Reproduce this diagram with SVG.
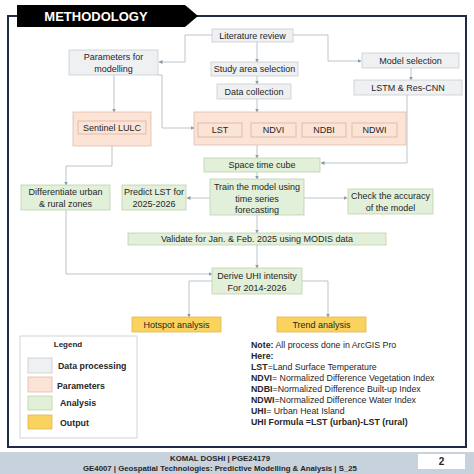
<svg xmlns="http://www.w3.org/2000/svg" width="474" height="474" viewBox="0 0 474 474">
<defs>
<style>
.t{font-family:"Liberation Sans",Arial,sans-serif;font-size:9px;fill:#262626;text-anchor:middle}
.n{font-family:"Liberation Sans",Arial,sans-serif;font-size:8.8px;fill:#262626}
.b{font-weight:bold}
.gray{fill:#eff0f2;stroke:#c9ccd2;stroke-width:0.8}
.peach{fill:#fbe3d6;stroke:#e4bca8;stroke-width:0.8}
.pin{fill:#fbe3d6;stroke:#d9b3a0;stroke-width:0.8}
.green{fill:#e2efd9;stroke:#bcd2ad;stroke-width:0.8}
.yellow{fill:#f9d35e;stroke:#e3b84a;stroke-width:0.8}
.c{fill:none;stroke:#aab6c3;stroke-width:0.8}
</style>
<marker id="ah" markerWidth="4" markerHeight="4" refX="3.5" refY="2" orient="auto" markerUnits="userSpaceOnUse">
<path d="M0,0 L4,2 L0,4 z" fill="#8c9aa8"/>
</marker>
</defs>
<rect width="474" height="474" fill="#ffffff"/>
<!-- frame -->
<rect x="8" y="16" width="458" height="431" fill="none" stroke="#1f2a44" stroke-width="2"/>
<g id="title">
<polygon points="17,5 185,5 198,16 185,27 17,27" fill="#000000"/>
<text x="96" y="20.5" font-family="'Liberation Sans',Arial,sans-serif" font-size="13px" font-weight="bold" fill="#ffffff" text-anchor="middle">METHODOLOGY</text>
</g>
<!-- footer -->
<g id="footer">
<rect x="0" y="452" width="474" height="22" fill="#c8d2dc"/>
<text class="t b" x="220" y="461" style="font-size:7.8px">KOMAL DOSHI | PGE24179</text>
<text class="t b" x="220" y="470.5" style="font-size:7.8px">GE4007 | Geospatial Technologies: Predictive Modelling &amp; Analysis | S_25</text>
<rect x="418" y="454" width="47" height="15" fill="#ffffff"/>
<text class="t b" x="441.5" y="465" style="font-size:10px">2</text>
</g>
<!-- connectors -->
<g id="connectors">
<path class="c" d="M212,35 H185 V62 H159" marker-end="url(#ah)"/>
<path class="c" d="M293,35 H328 V61 H361" marker-end="url(#ah)"/>
<path class="c" d="M257,42 V62" marker-end="url(#ah)"/>
<path class="c" d="M257,76 V84" marker-end="url(#ah)"/>
<path class="c" d="M257,99 V112" marker-end="url(#ah)"/>
<path class="c" d="M114,75 V112" marker-end="url(#ah)"/>
<path class="c" d="M158,75 H162 V128 H194" marker-end="url(#ah)"/>
<path class="c" d="M411,68 V80" marker-end="url(#ah)"/>
<path class="c" d="M407,95 V163 H321" marker-end="url(#ah)"/>
<path class="c" d="M112,146 V166 H66 V185" marker-end="url(#ah)"/>
<path class="c" d="M257,145 V158" marker-end="url(#ah)"/>
<path class="c" d="M257,172 V179" marker-end="url(#ah)"/>
<path class="c" d="M210,198 H187" marker-end="url(#ah)"/>
<path class="c" d="M304,198 H347" marker-end="url(#ah)"/>
<path class="c" d="M257,215 V233" marker-end="url(#ah)"/>
<path class="c" d="M257,245 V268" marker-end="url(#ah)"/>
<path class="c" d="M66,210 V274 H212" marker-end="url(#ah)"/>
<path class="c" d="M212,281 H189 V317" marker-end="url(#ah)"/>
<path class="c" d="M302,281 H328 V317" marker-end="url(#ah)"/>
</g>
<!-- nodes -->
<g id="literature-review"><rect class="gray" x="212" y="29" width="81" height="13"/><text class="t" x="252.5" y="38.5">Literature review</text></g>
<g id="parameters-for-modelling"><rect class="gray" x="69" y="50" width="89" height="25"/><text class="t" x="113.5" y="60">Parameters for</text><text class="t" x="113.5" y="71.5">modelling</text></g>
<g id="study-area-selection"><rect class="gray" x="211" y="62" width="87" height="14"/><text class="t" x="254.5" y="72">Study area selection</text></g>
<g id="data-collection"><rect class="gray" x="217" y="84" width="74" height="15"/><text class="t" x="254" y="94.5">Data collection</text></g>
<g id="model-selection"><rect class="gray" x="362" y="53" width="97" height="15"/><text class="t" x="410.5" y="63.5">Model selection</text></g>
<g id="lstm-res-cnn"><rect class="gray" x="354" y="80" width="108" height="15"/><text class="t" x="408" y="90.5">LSTM &amp; Res-CNN</text></g>
<g id="sentinel-lulc"><rect class="peach" x="73" y="112" width="78" height="34"/><rect class="pin" x="78" y="121" width="68" height="13"/><text class="t" x="112" y="130.5">Sentinel LULC</text></g>
<g id="indices">
<rect class="peach" x="194" y="112" width="212" height="33"/>
<g id="lst"><rect class="pin" x="198" y="123" width="44" height="14"/><text class="t" x="220" y="133">LST</text></g>
<g id="ndvi"><rect class="pin" x="251" y="123" width="45" height="14"/><text class="t" x="273.5" y="133">NDVI</text></g>
<g id="ndbi"><rect class="pin" x="302" y="123" width="44" height="14"/><text class="t" x="324" y="133">NDBI</text></g>
<g id="ndwi"><rect class="pin" x="352" y="123" width="45" height="14"/><text class="t" x="374.5" y="133">NDWI</text></g>
</g>
<g id="space-time-cube"><rect class="green" x="204" y="158" width="116" height="14"/><text class="t" x="262" y="168">Space time cube</text></g>
<g id="train-model"><rect class="green" x="210" y="179" width="94" height="36"/><text class="t" x="257" y="190">Train the model using</text><text class="t" x="257" y="201.5">time series</text><text class="t" x="257" y="213">forecasting</text></g>
<g id="predict-lst"><rect class="green" x="122" y="185" width="64" height="25"/><text class="t" x="154" y="195">Predict LST for</text><text class="t" x="154" y="206.5">2025-2026</text></g>
<g id="differentiate"><rect class="green" x="21" y="185" width="89" height="25"/><text class="t" x="65.5" y="195">Differentiate urban</text><text class="t" x="65.5" y="206.5">&amp; rural zones</text></g>
<g id="check-accuracy"><rect class="green" x="348" y="189" width="85" height="25"/><text class="t" x="390.5" y="199">Check the accuracy</text><text class="t" x="390.5" y="210.5">of  the model</text></g>
<g id="validate"><rect class="green" x="128" y="233" width="258" height="12"/><text class="t" x="257" y="242">Validate for Jan. &amp; Feb. 2025 using MODIS data</text></g>
<g id="derive-uhi"><rect class="green" x="212" y="268" width="90" height="26"/><text class="t" x="257" y="279">Derive UHI intensity</text><text class="t" x="257" y="290.5">For 2014-2026</text></g>
<g id="hotspot-analysis"><rect class="yellow" x="132" y="317" width="89" height="15"/><text class="t" x="176.5" y="327.5">Hotspot analysis</text></g>
<g id="trend-analysis"><rect class="yellow" x="277" y="317" width="89" height="15"/><text class="t" x="321.5" y="327.5">Trend analysis</text></g>
<!-- legend -->
<g id="legend">
<rect x="20" y="336" width="117" height="102" fill="#ffffff" stroke="#c8c8c8" stroke-width="0.8"/>
<text class="t b" x="68" y="347" style="font-size:8px">Legend</text>
<rect class="gray" x="28" y="358" width="24" height="15"/><text class="n b" x="58" y="369">Data processing</text>
<rect class="peach" x="28" y="377" width="24" height="15"/><text class="n b" x="57" y="389">Parameters</text>
<rect class="green" x="28" y="396" width="24" height="14"/><text class="n b" x="60" y="406">Analysis</text>
<rect class="yellow" x="28" y="415" width="24" height="14"/><text class="n b" x="60" y="426">Output</text>
</g>
<!-- notes -->
<g id="notes">
<text class="n" x="251" y="347.5"><tspan class="b">Note:</tspan> All process done in ArcGIS Pro</text>
<text class="n b" x="251" y="358.5">Here:</text>
<text class="n" x="251" y="369.5"><tspan class="b">LST</tspan>=Land Surface Temperature</text>
<text class="n" x="251" y="381"><tspan class="b">NDVI</tspan>= Normalized Difference Vegetation Index</text>
<text class="n" x="251" y="392"><tspan class="b">NDBI</tspan>=Normalized Difference Built-up Index</text>
<text class="n" x="251" y="403"><tspan class="b">NDWI</tspan>=Normalized Difference Water Index</text>
<text class="n" x="251" y="414"><tspan class="b">UHI</tspan>= Urban Heat Island</text>
<text class="n b" x="251" y="425">UHI Formula =LST (urban)-LST (rural)</text>
</g>
</svg>
